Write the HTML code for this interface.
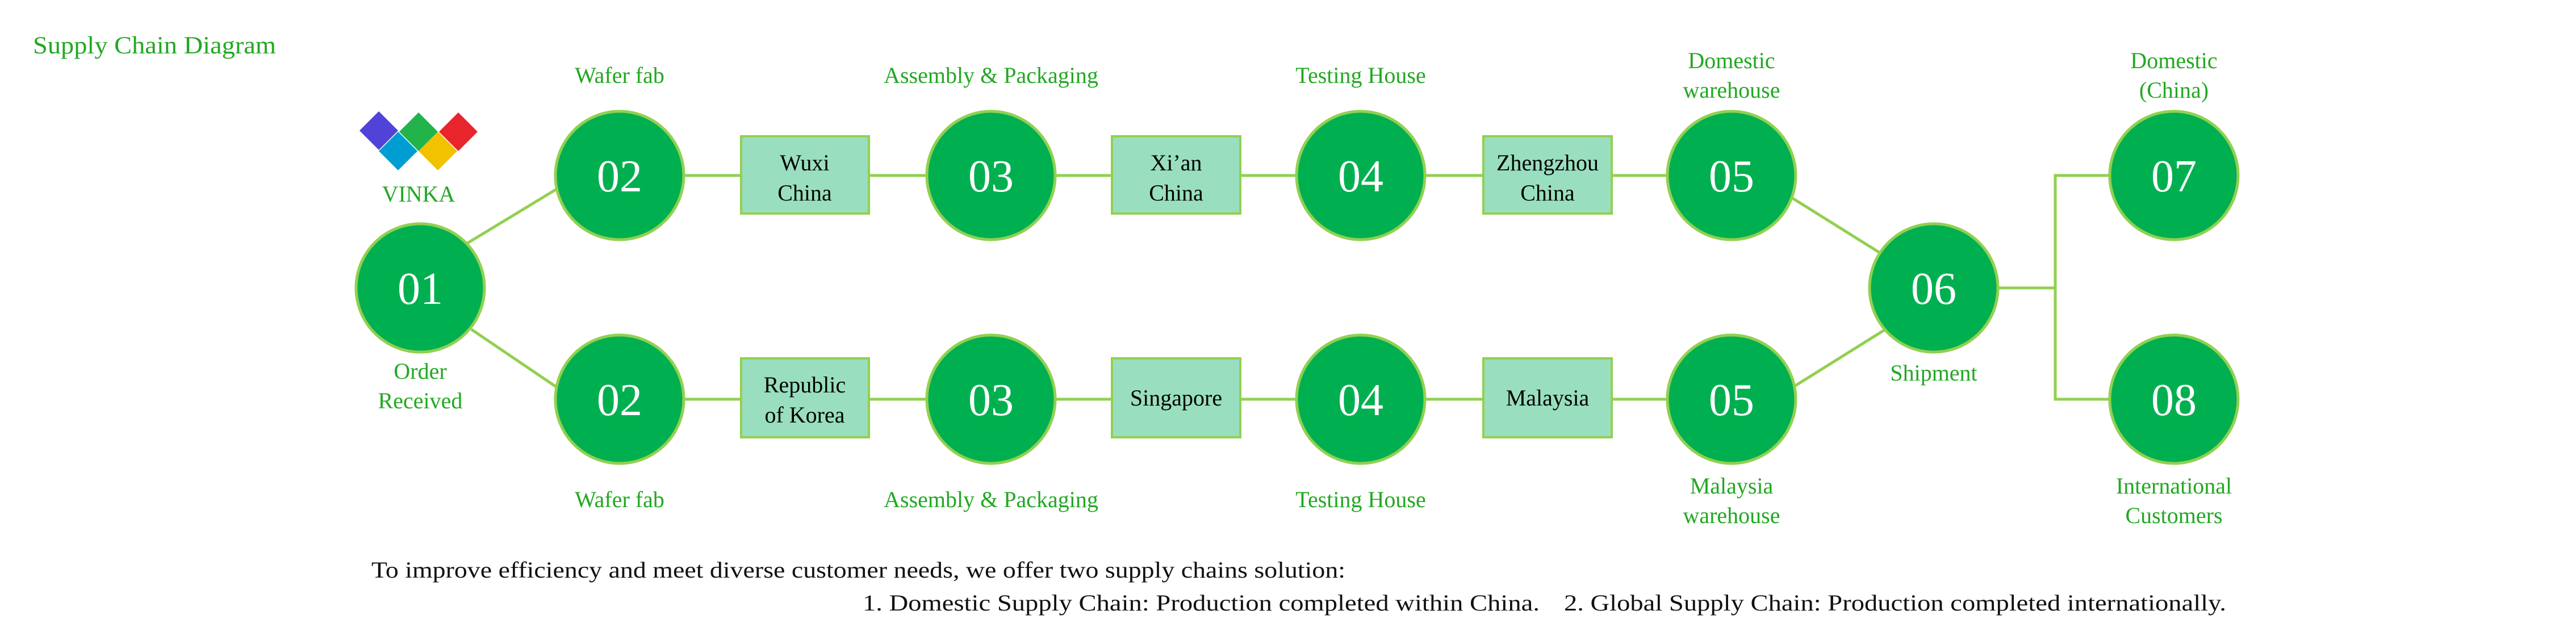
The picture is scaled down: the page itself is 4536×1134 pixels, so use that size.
<!DOCTYPE html>
<html><head><meta charset="utf-8"><style>
html,body{margin:0;padding:0;background:#fff;}
svg{display:block;}
text{font-family:"Liberation Serif",serif;}
.lb{fill:#22a822;font-size:40px;text-anchor:middle;}
.num{fill:#fff;font-size:80px;text-anchor:middle;}
.bx{fill:#000;font-size:40px;text-anchor:middle;}
circle{fill:#00b050;stroke:#92d050;stroke-width:5;}
rect{fill:#99dfbf;stroke:#92d050;stroke-width:4;}
line,polyline{stroke:#92d050;stroke-width:5;fill:none;}
</style></head><body>
<svg width="4536" height="1134" viewBox="0 0 4536 1134">
<text x="58" y="94" style="fill:#22a822;font-size:43px" textLength="428" lengthAdjust="spacingAndGlyphs">Supply Chain Diagram</text>
<!-- logo -->
<polygon points="667,196 701,230 667,264 633,230" fill="#5142d8"/>
<polygon points="737,198 771,232 737,266 703,232" fill="#23b34b"/>
<polygon points="807,198 841,232 807,266 773,232" fill="#e8242c"/>
<polygon points="701,232 735,266 701,300 667,266" fill="#009dd2"/>
<polygon points="771,232 805,266 771,300 737,266" fill="#f2c200"/>
<text class="lb" x="737" y="355">VINKA</text>
<!-- connectors -->
<line x1="820" y1="430" x2="985" y2="330"/>
<line x1="830" y1="580" x2="985" y2="685"/>
<line x1="1091" y1="309" x2="3049" y2="309"/>
<line x1="1091" y1="703" x2="3049" y2="703"/>
<line x1="3150" y1="345" x2="3310" y2="445"/>
<line x1="3160" y1="680" x2="3320" y2="580"/>
<line x1="3405" y1="507" x2="3620" y2="507"/>
<polyline points="3828,309 3619,309 3619,703 3828,703"/>
<!-- boxes -->
<rect x="1305" y="240" width="225" height="136"/>
<rect x="1958" y="240" width="226" height="136"/>
<rect x="2612" y="240" width="226" height="136"/>
<rect x="1305" y="631" width="225" height="139"/>
<rect x="1958" y="631" width="226" height="139"/>
<rect x="2612" y="631" width="226" height="139"/>
<text class="bx" x="1417" y="300">Wuxi</text><text class="bx" x="1417" y="353">China</text>
<text class="bx" x="2071" y="300">Xi’an</text><text class="bx" x="2071" y="353">China</text>
<text class="bx" x="2725" y="300">Zhengzhou</text><text class="bx" x="2725" y="353">China</text>
<text class="bx" x="1417" y="691">Republic</text><text class="bx" x="1417" y="744">of Korea</text>
<text class="bx" x="2071" y="714">Singapore</text>
<text class="bx" x="2725" y="714">Malaysia</text>
<!-- circles -->
<circle cx="740" cy="507" r="113"/><text class="num" x="740" y="535">01</text>
<circle cx="1091" cy="309" r="113"/><text class="num" x="1091" y="337">02</text>
<circle cx="1745" cy="309" r="113"/><text class="num" x="1745" y="337">03</text>
<circle cx="2396" cy="309" r="113"/><text class="num" x="2396" y="337">04</text>
<circle cx="3049" cy="309" r="113"/><text class="num" x="3049" y="337">05</text>
<circle cx="1091" cy="703" r="113"/><text class="num" x="1091" y="731">02</text>
<circle cx="1745" cy="703" r="113"/><text class="num" x="1745" y="731">03</text>
<circle cx="2396" cy="703" r="113"/><text class="num" x="2396" y="731">04</text>
<circle cx="3049" cy="703" r="113"/><text class="num" x="3049" y="731">05</text>
<circle cx="3405" cy="507" r="113"/><text class="num" x="3405" y="535">06</text>
<circle cx="3828" cy="309" r="113"/><text class="num" x="3828" y="337">07</text>
<circle cx="3828" cy="703" r="113"/><text class="num" x="3828" y="731">08</text>
<!-- labels -->
<text class="lb" x="1091" y="146">Wafer fab</text>
<text class="lb" x="1745" y="146">Assembly &amp; Packaging</text>
<text class="lb" x="2396" y="146">Testing House</text>
<text class="lb" x="3049" y="120">Domestic</text><text class="lb" x="3049" y="172">warehouse</text>
<text class="lb" x="3828" y="120">Domestic</text><text class="lb" x="3828" y="172">(China)</text>
<text class="lb" x="740" y="667">Order</text><text class="lb" x="740" y="719">Received</text>
<text class="lb" x="3405" y="670">Shipment</text>
<text class="lb" x="1091" y="893">Wafer fab</text>
<text class="lb" x="1745" y="893">Assembly &amp; Packaging</text>
<text class="lb" x="2396" y="893">Testing House</text>
<text class="lb" x="3049" y="869">Malaysia</text><text class="lb" x="3049" y="921">warehouse</text>
<text class="lb" x="3828" y="869">International</text><text class="lb" x="3828" y="921">Customers</text>
<!-- bottom text -->
<text x="654" y="1017" style="fill:#111;font-size:40px" textLength="1715" lengthAdjust="spacingAndGlyphs">To improve efficiency and meet diverse customer needs, we offer two supply chains solution:</text>
<text x="1519" y="1075" style="fill:#111;font-size:40px" textLength="1192" lengthAdjust="spacingAndGlyphs">1. Domestic Supply Chain: Production completed within China.</text>
<text x="2754" y="1075" style="fill:#111;font-size:40px" textLength="1166" lengthAdjust="spacingAndGlyphs">2. Global Supply Chain: Production completed internationally.</text>
</svg>
</body></html>
